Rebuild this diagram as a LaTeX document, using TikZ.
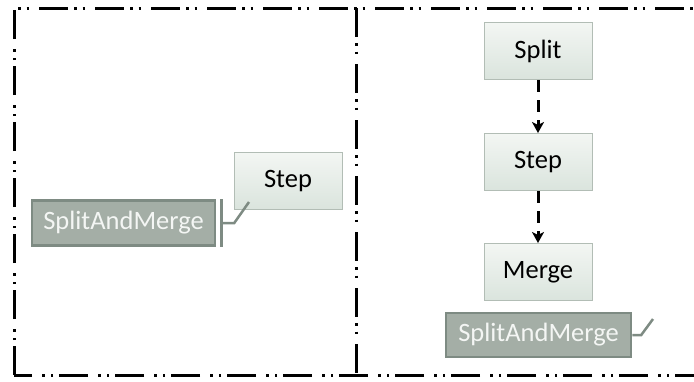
\documentclass[tikz,border=0pt]{standalone}
\usepackage{fontspec}
\setmainfont{Carlito}
\usetikzlibrary{arrows.meta,positioning}
\definecolor{BoxTop}{HTML}{F3F6F3}
\definecolor{BoxBottom}{HTML}{DAE4DD}
\definecolor{BoxLine}{HTML}{B2BDB5}
\definecolor{TagFill}{HTML}{A4AEA6}
\definecolor{TagLine}{HTML}{7E8B83}
\definecolor{TagText}{HTML}{F4F6F4}
\tikzset{
  frameline/.style={line width=3pt,dash pattern=on 29pt off 6pt on 2.5pt off 6pt on 2.5pt off 10pt},
  stepbox/.style={draw=BoxLine,line width=1pt,top color=BoxTop,bottom color=BoxBottom,minimum width=108pt,minimum height=57pt,font=\fontsize{26.5}{30}\selectfont},
  tagbox/.style={draw=TagLine,line width=2.5pt,fill=TagFill,text=TagText,minimum height=45pt,font=\fontsize{26.5}{30}\selectfont},
  flowarrow/.style={-{Stealth[length=11pt,width=12pt,inset=3pt]},line width=3pt,dash pattern=on 12pt off 8pt},
  calloutline/.style={draw=TagLine,line width=2.5pt}
}
\begin{document}
\begin{tikzpicture}[x=1pt,y=-1pt]
  \useasboundingbox (0,0) rectangle (694,381);
  % outer frame, split in two halves
  \draw[frameline] (14,375) -- (14,8) -- (720,8) -- (720,375) -- cycle;
  \draw[frameline] (356,8) -- (356,375);

  % left half: a single step tagged with its parent
  \node[stepbox] (stepL) at (288,181) {Step};
  \node[tagbox,minimum width=183pt] (tagL) at (123.5,223) {SplitAndMerge};
  \coordinate (tipL) at (249,202);
  \draw[calloutline] ([xshift=5pt]tagL.north east) -- ([xshift=5pt]tagL.south east);
  \draw[calloutline] ([xshift=5pt]tagL.east) -- ++(13,0) -- (tipL);

  % right half: the expanded split / step / merge chain
  \node[stepbox] (split) at (538,51) {Split};
  \node[stepbox] (stepR) at (538,162) {Step};
  \node[stepbox] (merge) at (538,272) {Merge};
  \node[tagbox,minimum width=185pt,minimum height=44pt] (tagR) at (538.5,335) {SplitAndMerge};
  \coordinate (tipR) at (653,319);

  \draw[flowarrow] (split) -- (stepR);
  \draw[flowarrow] (stepR) -- (merge);
  \draw[calloutline] (tagR.east) -- ++(9,0) -- (tipR);
\end{tikzpicture}
\end{document}
